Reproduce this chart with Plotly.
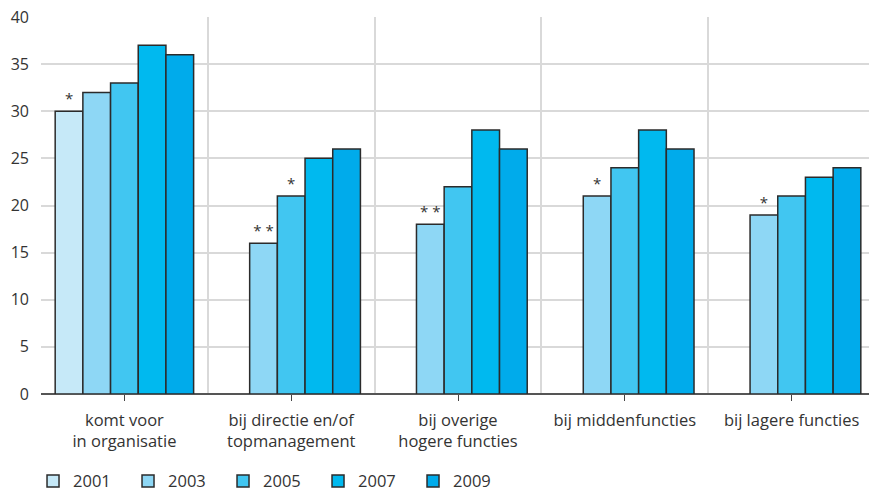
import plotly.graph_objects as go

categories = [
    "komt voor<br>in organisatie",
    "bij directie en/of<br>topmanagement",
    "bij overige<br>hogere functies",
    "bij middenfuncties",
    "bij lagere functies",
]
years = ["2001", "2003", "2005", "2007", "2009"]

v2001 = [30, None, None, None, None]
v2003 = [32, 16, 18, 21, 19]
v2005 = [33, 21, 22, 24, 21]
v2007 = [37, 25, 28, 28, 23]
v2009 = [36, 26, 26, 26, 24]

# significance markers shown above bars
m2001 = ["*", "", "", "", ""]
m2003 = ["", "* *", "* *", "*", "*"]
m2005 = ["", "*", "", "", ""]
m2007 = ["", "", "", "", ""]
m2009 = ["", "", "", "", ""]

series = [v2001, v2003, v2005, v2007, v2009]
markers = [m2001, m2003, m2005, m2007, m2009]
colors = ["#c6e9f8", "#8ed7f5", "#41c6f1", "#00b9ef", "#00abeb"]

FONT = "Open Sans"
TXT = "#333333"

xpos = list(range(len(categories)))

fig = go.Figure()
for name, vals, marks, col in zip(years, series, markers, colors):
    fig.add_trace(go.Bar(
        x=xpos, y=vals, name=name,
        text=marks, textposition="outside",
        textfont=dict(size=15, color=TXT, family=FONT),
        marker=dict(color=col, line=dict(color="#2b2b2b", width=1.5)),
        cliponaxis=False,
    ))

boundaries = [i - 0.5 for i in range(len(categories) + 1)]

fig.update_layout(
    width=869, height=492,
    margin=dict(l=41, r=0, t=17, b=98),
    paper_bgcolor="white", plot_bgcolor="white",
    barmode="group", bargap=0.17, bargroupgap=0,
    font=dict(family=FONT, size=16.5, color=TXT),
    showlegend=True,
    legend=dict(
        orientation="h", xref="container", x=0.038, xanchor="left",
        yref="container", y=0.022, yanchor="middle",
        entrywidth=50, entrywidthmode="pixels",
        font=dict(size=16.5, color=TXT, family=FONT),
        itemclick=False, traceorder="normal",
    ),
    xaxis=dict(
        range=[-0.5, -0.5 + 828 / 166.8],
        tickmode="array", tickvals=xpos, ticktext=categories,
        ticks="outside", ticklen=6, tickcolor="#444444", tickwidth=1,
        ticklabelstandoff=5,
        showgrid=False, zeroline=False, showline=False,
        minor=dict(tickmode="array", tickvals=boundaries, showgrid=True,
                   gridcolor="#d9d9d9", gridwidth=1.5, ticklen=0),
        tickfont=dict(size=16.5, color=TXT),
    ),
    yaxis=dict(
        range=[0, 40], tickmode="array", tickvals=list(range(0, 41, 5)),
        showgrid=True, gridcolor="#d9d9d9", gridwidth=1.5,
        zeroline=True, zerolinecolor="#555555", zerolinewidth=1.5,
        showline=False, ticks="", ticklabelstandoff=11,
        tickfont=dict(size=16, color=TXT),
    ),
)

fig.write_html("out.html")
